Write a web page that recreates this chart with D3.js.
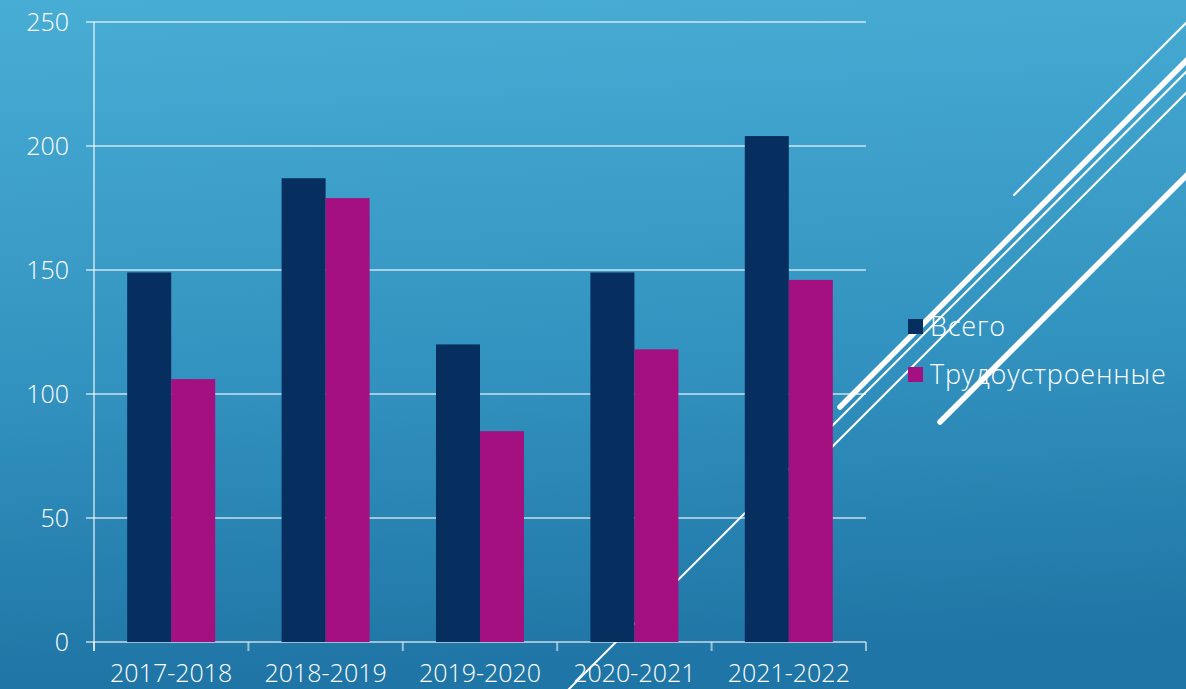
<!DOCTYPE html>
<html>
<head>
<meta charset="utf-8">
<script src="https://cdn.jsdelivr.net/npm/d3@7"></script>
<style>
  body { margin: 0; overflow: hidden; }
  svg text { font-family: "Open Sans", "Liberation Sans", sans-serif; font-weight: 300; fill: #fff; }
</style>
</head>
<body>
<svg id="chart"></svg>
<script>
// data
const years = ["2017-2018", "2018-2019", "2019-2020", "2020-2021", "2021-2022"];
const seriesNames = ["Всего", "Трудоустроенные"];
const total = [149, 187, 120, 149, 204];
const employed = [106, 179, 85, 118, 146];
const yTicks = [0, 50, 100, 150, 200, 250];

const colors = { "Всего": "#062f60", "Трудоустроенные": "#a4107f" };

const W = 1186, H = 689;
const margin = { top: 22, right: 320, bottom: 47, left: 94 };

const svg = d3.select("#chart").attr("width", W).attr("height", H);

// background
const defs = svg.append("defs");
const grad = defs.append("linearGradient").attr("id", "bg")
    .attr("x1", 0).attr("y1", 0).attr("x2", 0.08).attr("y2", 1);
grad.append("stop").attr("offset", "0%").attr("stop-color", "#48add5");
grad.append("stop").attr("offset", "55%").attr("stop-color", "#3393c0");
grad.append("stop").attr("offset", "100%").attr("stop-color", "#1f75a5");
svg.append("rect").attr("width", W).attr("height", H).attr("fill", "url(#bg)");

// decorative slide lines (behind the chart)
const deco = [
    { x1: 1014, y1: 195, x2: 1190, y2: 19, w: 2 },
    { x1: 840, y1: 407, x2: 1190, y2: 57, w: 5.5 },
    { x1: 566, y1: 692, x2: 1190, y2: 68, w: 2 },
    { x1: 790, y1: 489, x2: 1190, y2: 89, w: 2 },
    { x1: 940, y1: 422, x2: 1190, y2: 172, w: 5.5 }
];
svg.append("g").selectAll("line").data(deco).join("line")
    .attr("x1", d => d.x1).attr("y1", d => d.y1)
    .attr("x2", d => d.x2).attr("y2", d => d.y2)
    .attr("stroke", "#fff").attr("stroke-width", d => d.w)
    .attr("stroke-linecap", "round");

const plotW = W - margin.left - margin.right;
const plotH = H - margin.top - margin.bottom;
const g = svg.append("g").attr("transform", `translate(${margin.left},${margin.top})`);

const y = d3.scaleLinear().domain([0, 250]).range([plotH, 0]);
const x0 = d3.scaleBand().domain(years).range([0, plotW]).paddingInner(0.43).paddingOuter(0.215);
const x1 = d3.scaleBand().domain(seriesNames).range([0, x0.bandwidth()]);

const lineCol = "rgba(255,255,255,0.55)";

// grid
g.append("g").selectAll("line").data(yTicks).join("line")
    .attr("x1", -8).attr("x2", plotW)
    .attr("y1", d => y(d)).attr("y2", d => y(d))
    .attr("stroke", lineCol).attr("stroke-width", 2);

// vertical axis line
g.append("line").attr("x1", 0).attr("x2", 0).attr("y1", 0).attr("y2", plotH + 9)
    .attr("stroke", lineCol).attr("stroke-width", 2);

// x ticks at category boundaries
g.append("g").selectAll("line").data(d3.range(years.length + 1)).join("line")
    .attr("x1", i => i * x0.step()).attr("x2", i => i * x0.step())
    .attr("y1", plotH).attr("y2", plotH + 9)
    .attr("stroke", lineCol).attr("stroke-width", 2);

// bars
const rows = years.map((yr, i) => ({ year: yr, values: [
    { key: seriesNames[0], value: total[i] },
    { key: seriesNames[1], value: employed[i] }
] }));

g.append("g").selectAll("g").data(rows).join("g")
    .attr("transform", d => `translate(${x0(d.year)},0)`)
  .selectAll("rect").data(d => d.values).join("rect")
    .attr("x", d => x1(d.key))
    .attr("width", x1.bandwidth())
    .attr("y", d => y(d.value))
    .attr("height", d => plotH - y(d.value))
    .attr("fill", d => colors[d.key]);

// axes labels
const yAxis = g.append("g").call(d3.axisLeft(y).tickValues(yTicks).tickSize(0).tickPadding(25));
yAxis.select(".domain").remove();
yAxis.selectAll("text").attr("font-size", 25).style("font-family", null);

const xAxis = g.append("g").attr("transform", `translate(0,${plotH})`)
    .call(d3.axisBottom(x0).tickSize(0).tickPadding(22));
xAxis.select(".domain").remove();
xAxis.selectAll("text").attr("font-size", 25).style("font-family", null);

// legend
const legend = svg.append("g").attr("transform", "translate(908,319)");
const li = legend.selectAll("g").data(seriesNames).join("g")
    .attr("transform", (d, i) => `translate(0,${i * 48})`);
li.append("rect").attr("width", 15).attr("height", 15).attr("fill", d => colors[d]);
li.append("text").attr("x", 22).attr("y", 8).attr("dy", "0.35em")
    .attr("font-size", 27).attr("letter-spacing", 0.8).text(d => d);
</script>
</body>
</html>
